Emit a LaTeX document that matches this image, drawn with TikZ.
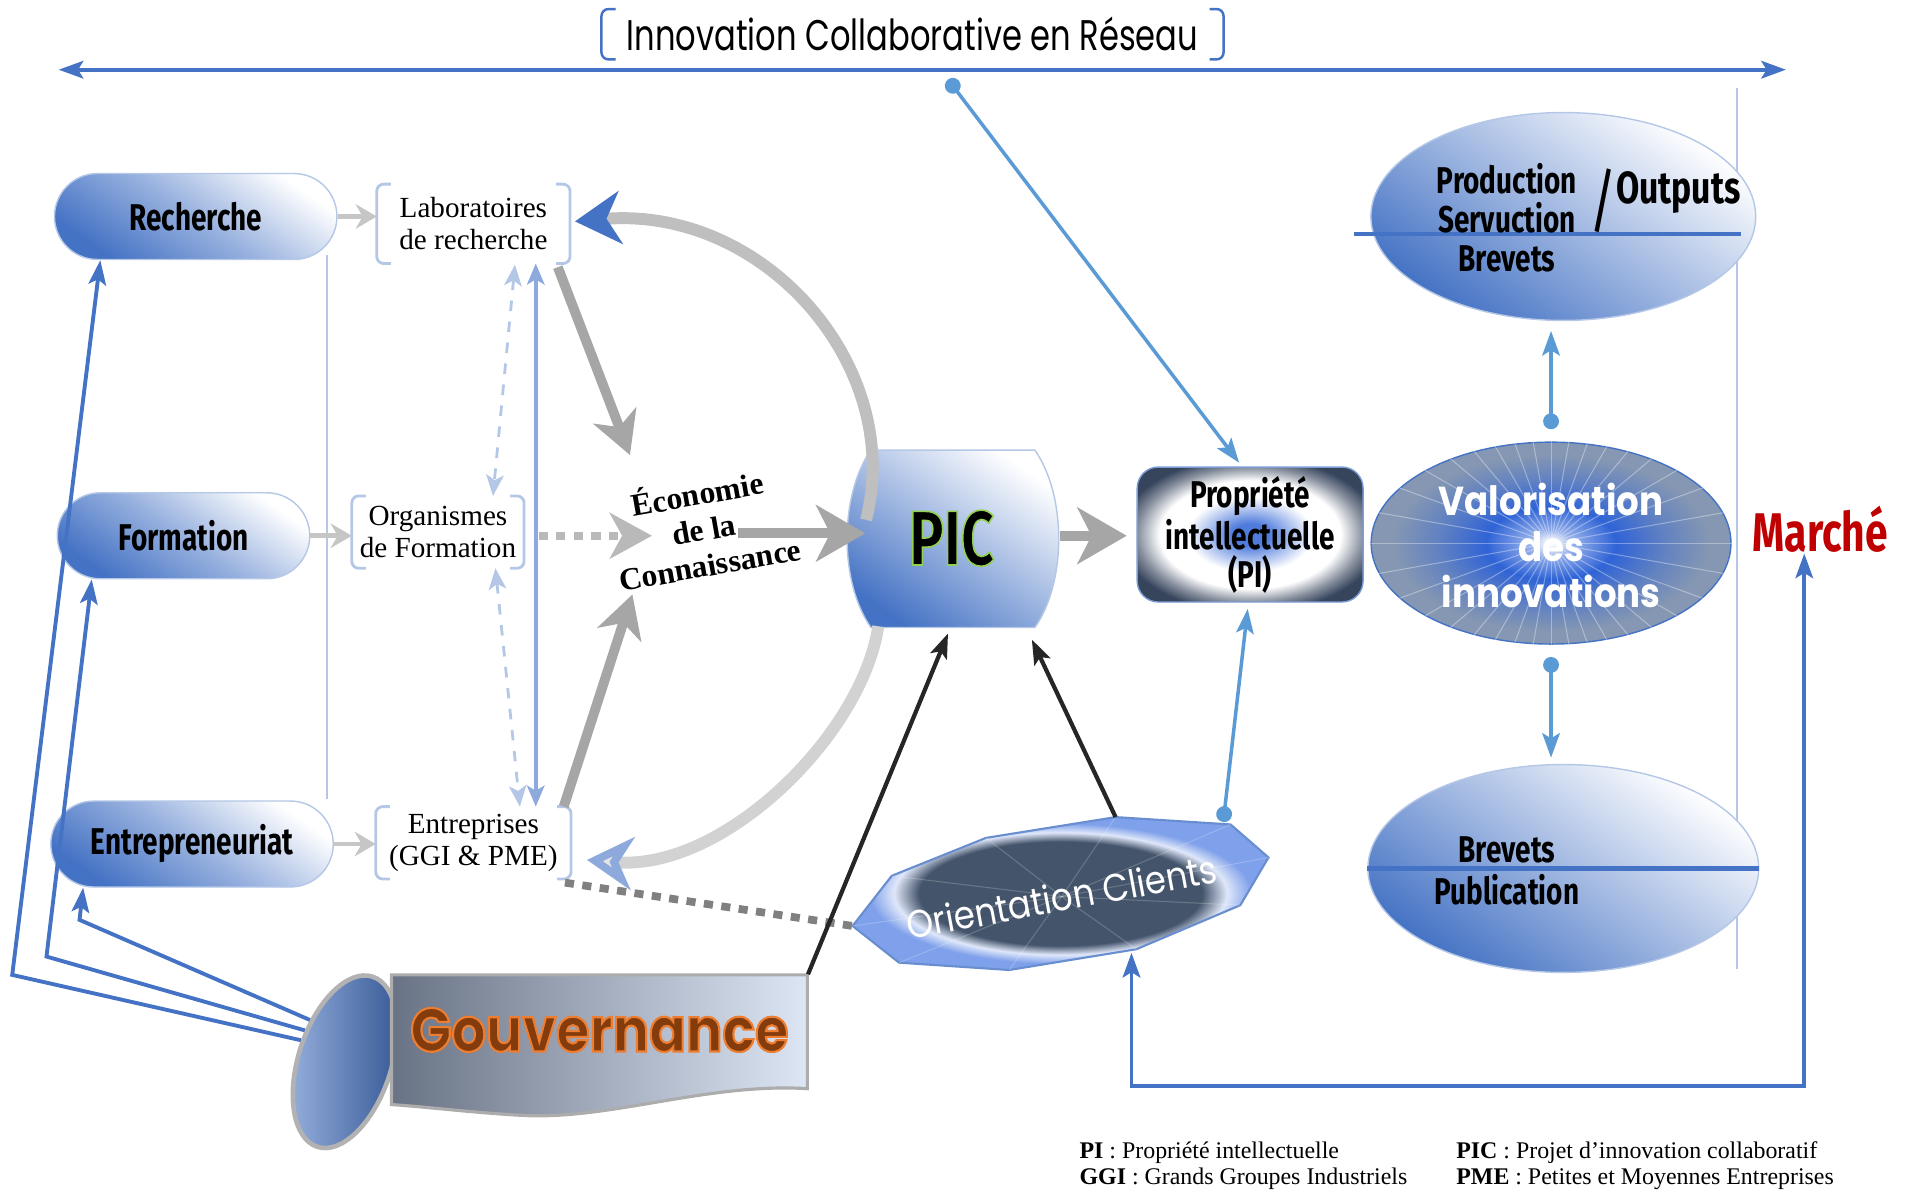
\documentclass[tikz,border=0pt]{standalone}
\usepackage{fontspec}
\setmainfont{Liberation Serif}
\newfontfamily\condfont{Fira Sans}[FakeStretch=0.75]
\newfontfamily\geofont{Poppins}[FakeStretch=0.88]
\newfontfamily\geotitle{Poppins}[FakeStretch=0.75]
\usetikzlibrary{positioning, shapes.geometric, shapes.misc, arrows.meta, calc}

\definecolor{mblue}{HTML}{4472C4}
\definecolor{lblue}{HTML}{5B9BD5}
\definecolor{pale}{HTML}{B4C7E7}
\definecolor{dblue}{HTML}{8EA9DB}
\definecolor{navy}{HTML}{36445C}
\definecolor{onavy}{HTML}{44546A}
\definecolor{oedge}{HTML}{7FA0EA}
\definecolor{vblue}{HTML}{2F63D6}
\definecolor{vgray}{HTML}{8597B2}
\definecolor{pilight}{HTML}{4F7BDC}
\definecolor{marche}{HTML}{C00000}
\definecolor{garr}{HTML}{A6A6A6}
\definecolor{brun}{HTML}{843C0C}

\pgfdeclareradialshading{pishade}{\pgfpointorigin}{color(0bp)=(pilight); color(4bp)=(pilight); color(10bp)=(pilight!40!white); color(14bp)=(white); color(20bp)=(white); color(25bp)=(white!40!navy); color(29bp)=(navy); color(50bp)=(navy)}
\pgfdeclareradialshading{valshade}{\pgfpointorigin}{color(0bp)=(white); color(3bp)=(white!50!vblue); color(9bp)=(vblue); color(16bp)=(vblue!40!vgray); color(22bp)=(vgray); color(50bp)=(vgray)}
\pgfdeclareradialshading{octshade}{\pgfpointorigin}{color(0bp)=(onavy); color(17bp)=(onavy); color(20bp)=(white!75!oedge); color(23bp)=(oedge); color(50bp)=(oedge)}

\tikzstyle{pill} = [rounded rectangle, draw=pale, top color=white, bottom color=mblue, middle color=mblue!55!white, shading angle=-35, minimum height=0.86cm, font=\condfont\bfseries\fontsize{10.6}{11}\selectfont]
\tikzstyle{bleuovale} = [ellipse, draw=pale, inner sep=0pt, top color=white, bottom color=mblue, middle color=mblue!50!white, shading angle=-35]
\tikzstyle{crochet} = [align=center, inner sep=0pt, font=\fontsize{8.3}{9.2}\selectfont]
\tikzstyle{cond} = [align=center, inner sep=0pt, font=\condfont\bfseries\fontsize{10.6}{10.8}\selectfont]
\tikzstyle{legende} = [anchor=west, inner sep=0pt, font=\fontsize{6.8}{7}\selectfont]
\tikzstyle{bigblue} = [mblue, line width=1.1pt, {Stealth[length=7pt,width=5pt,inset=1.5pt]}-{Stealth[length=7pt,width=5pt,inset=1.5pt]}]
\tikzstyle{loopline} = [mblue, line width=1.1pt, -{Stealth[length=7pt,width=5pt,inset=1.5pt]}]
\tikzstyle{dotarrow} = [lblue, line width=1pt, {Circle[length=4.5pt]}-{Stealth[length=7pt,width=5pt,inset=1.5pt]}]
\tikzstyle{sgray} = [draw=gray!45, line width=1.3pt, -{Stealth[length=6pt,width=7pt,inset=2pt]}]
\tikzstyle{ggray} = [draw=garr, line width=2.8pt, -{Stealth[length=12pt,width=13pt,inset=3.5pt]}]
\tikzstyle{gdots} = [draw=gray!55, line width=2.2pt, dash pattern=on 2.6pt off 2.4pt]
\tikzstyle{gcurve} = [draw=gray!50, line width=3.4pt]
\tikzstyle{darrow} = [black!85, line width=1.2pt, -{Stealth[length=7pt,width=5pt,inset=1.5pt]}]
\tikzstyle{paledash} = [pale, line width=0.8pt, dashed, {Stealth[length=6pt,width=5pt,inset=1.5pt]}-{Stealth[length=6pt,width=5pt,inset=1.5pt]}]
\tikzstyle{palesolid} = [dblue, line width=1pt, {Stealth[length=6pt,width=5pt,inset=1.5pt]}-{Stealth[length=6pt,width=5pt,inset=1.5pt]}]

% crochets autour d'un noeud
\newcommand{\crochets}[2]{%
  \draw[#2, rounded corners=2pt] ([xshift=4pt]#1.north west) -- (#1.north west) -- (#1.south west) -- ([xshift=4pt]#1.south west);
  \draw[#2, rounded corners=2pt] ([xshift=-4pt]#1.north east) -- (#1.north east) -- (#1.south east) -- ([xshift=-4pt]#1.south east);}
% texte avec contour (couleur du trait, epaisseur, texte)
\newcommand{\contourtxt}[3]{\special{pdf:literal direct #1 RG #2 w 2 Tr}#3\special{pdf:literal direct 0 Tr}}

\begin{document}
\begin{tikzpicture}[x=0.012232cm, y=-0.012232cm]
\useasboundingbox (0,0) rectangle (1568,976);

%titre et axe du reseau
\node (titre) [inner sep=0pt, minimum width=6.21cm, minimum height=0.49cm, font=\geotitle\fontsize{12.2}{13}\selectfont] at (746,28) {Innovation Collaborative en Réseau};
\crochets{titre}{draw=mblue, line width=0.7pt}
\coordinate (axeG) at (48,57);
\coordinate (axeD) at (1460,57);
\coordinate (axeP) at (775,65);
\draw [bigblue] (axeG) -- (axeD);
\draw [pale, line width=0.6pt] (1420,72) -- (1420,792);

%colonne de gauche
\node (rech) [pill, minimum width=3.06cm] at (160,177) {Recherche};
\node (form) [pill, minimum width=2.76cm] at (150,438) {Formation};
\node (entr) [pill, minimum width=3.06cm] at (157,690) {Entrepreneuriat};
\draw [pale, line width=0.5pt] ($(rech.east |- rech.south)+(-9,-4)$) -- ($(entr.east |- entr.north)+(-6,-1)$);

\node (labo) [crochet, minimum width=1.92cm, minimum height=0.78cm] at (387,183) {Laboratoires\\de recherche};
\node (orgf) [crochet, minimum width=1.71cm, minimum height=0.71cm] at (358,435) {Organismes\\de Formation};
\node (entp) [crochet, minimum width=1.94cm, minimum height=0.71cm] at (387,689) {Entreprises\\(GGI \& PME)};
\crochets{labo}{draw=pale, line width=0.8pt}
\crochets{orgf}{draw=pale, line width=0.8pt}
\crochets{entp}{draw=pale, line width=0.8pt}

\draw [sgray] (rech.east) -- (rech.east -| labo.west);
\draw [sgray] (form.east) -- (form.east -| orgf.west);
\draw [sgray] (entr.east) -- (entr.east -| entp.west);
\draw [paledash] ([shift={(34,1)}]labo.south) -- ([shift={(45,0)}]orgf.north);
\draw [paledash] ([shift={(47,0)}]orgf.south) -- ([shift={(38,0)}]entp.north);
\draw [palesolid] ([shift={(51,0)}]labo.south) -- ([shift={(51,0)}]entp.north);

%gouvernance
\node (govcap) [ellipse, rotate=-18, inner sep=0pt, minimum width=0.93cm, minimum height=1.79cm, draw=gray!60, line width=1.3pt, left color=mblue!55!white, right color=mblue!75!black] at (282,868) {};
\shade [left color=navy!75!white, right color=pale!45!white, draw=gray!65, line width=0.9pt] (320,797) -- (660,797) -- (660,890) .. controls (580,885) and (500,915) .. (430,912) .. controls (390,910) and (350,905) .. (320,903) -- cycle;
\node (gov) [inner sep=0pt, minimum width=4.16cm, minimum height=1.1cm, text=brun, font=\geofont\bfseries\fontsize{17.5}{18}\selectfont] at (490,842) {\contourtxt{0.93 0.49 0.19}{0.6}{Gouvernance}};
\draw [loopline] (govcap.148) -- (65,752) -- ([shift={(-89,0)}]entr.south);
\draw [loopline] (govcap.160) -- (38,782) -- ([shift={(-75,0)}]form.south);
\draw [loopline] (govcap.172) -- (10,797) -- ([shift={(-78,0)}]rech.south);

%economie de la connaissance
\node (eco) [rotate=10, align=center, inner sep=0pt, font=\bfseries\fontsize{9}{10.2}\selectfont] at (575,431) {Économie\\de la\\Connaissance};
\draw [ggray] ([shift={(-10,3)}]labo.south east) -- ([shift={(-60,-59)}]eco.center);
\draw [ggray] ([shift={(-6,0)}]entp.north east) -- ([shift={(-58,55)}]eco.center);
\draw [gdots, -{Stealth[length=12pt,width=13pt,inset=3.5pt]}] ([shift={(12,3)}]orgf.east) -- ([shift={(-42,7)}]eco.center);

%PIC
\shade [top color=white, bottom color=mblue, middle color=mblue!50!white, shading angle=-35, draw=pale] (712,368) -- (846,368) .. controls (872,405) and (872,476) .. (846,513) -- (712,513) .. controls (686,476) and (686,405) .. (712,368) -- cycle;
\node (pic) [inner sep=0pt, minimum width=2.08cm, minimum height=1.77cm, text=black, font=\condfont\bfseries\fontsize{22}{22}\selectfont] at (778,440) {\contourtxt{0.57 0.82 0.31}{0.45}{PIC}};
\draw [ggray, -{Stealth[length=14pt,width=16pt,inset=4pt]}] ([shift={(28,5)}]eco.center) -- ([shift={(15,-4)}]pic.west);
\draw [gcurve, -{Stealth[length=13pt,width=15pt,inset=4pt,color=mblue]}] ([shift={(-70,-15)}]pic.center) .. controls (740,300) and (625,168) .. ([shift={(4,-2)}]labo.east);
\draw [gcurve, draw=gray!35, -{Stealth[length=13pt,width=15pt,inset=4pt,color=dblue,fill=gray!20]}] ([shift={(-60,72)}]pic.center) .. controls (705,600) and (592,712) .. ([shift={(13,14)}]entp.east);

%propriete intellectuelle et valorisation
\node (pi) [cond, shade, shading=pishade, draw=mblue!70, rounded corners=6pt, minimum width=2.26cm, minimum height=1.35cm] at (1022,437) {Propriété\\intellectuelle\\(PI)};
\draw [ggray, -{Stealth[length=14pt,width=16pt,inset=4pt]}] ([shift={(3,-2)}]pic.east) -- ([shift={(-8,1)}]pi.west);

\node (valo) [ellipse, shade, shading=valshade, draw=mblue, inner sep=0pt, minimum width=3.6cm, minimum height=2.02cm] at (1268,444) {};
\foreach \a in {0,10,...,350}
  \draw [white, opacity=0.35, line width=0.3pt] (valo.center) -- (valo.\a);
\node (valotxt) [align=center, text=white, font=\geofont\bfseries\fontsize{11.5}{13.2}\selectfont] at (1268,446) {Valorisation\\des\\innovations};

\node (prod) [bleuovale, minimum width=3.85cm, minimum height=2.08cm] at (1278,177) {};
\draw [mblue, line width=1.2pt] ([shift={(-171,14)}]prod.center) -- ([shift={(145,14)}]prod.center);
\node (prodtxt) [cond, font=\condfont\bfseries\fontsize{10.6}{11.1}\selectfont] at (1232,162) {Production\\Servuction};
\node (slash) [inner sep=0pt, font=\condfont\fontsize{20}{20}\selectfont] at (1311,164) {/};
\node (outp) [cond, font=\condfont\bfseries\fontsize{12.8}{13}\selectfont] at (1372,157) {Outputs};
\node (prodbrev) [cond] at (1232,212) {Brevets};

\node (publ) [bleuovale, minimum width=3.91cm, minimum height=2.08cm] at (1278,710) {};
\draw [mblue, line width=1.2pt] (publ.west) -- (publ.east);
\node (publbrev) [cond] at (1232,695) {Brevets};
\node (publtxt) [cond] at (1232,727) {Publication};

\node (marche) [cond, text=marche, font=\condfont\bfseries\fontsize{15.5}{16}\selectfont] at (1488,433) {Marché};

%orientation clients
\path (697,757) coordinate (oc1) (735,787) coordinate (oc2) (825,793) coordinate (oc3) (929,776) coordinate (oc4) (1014,740) coordinate (oc5) (1037,701) coordinate (oc6) (1006,674) coordinate (oc7) (912,668) coordinate (oc8) (806,685) coordinate (oc9) (729,716) coordinate (oc10);
\coordinate (ocdot) at (1000,672);
\coordinate (ocbas) at (925,779);
\draw [gdots, draw=gray] ([shift={(-5,3)}]entp.south east) -- (oc1);
\shade [shading=octshade, draw=mblue!80, line width=0.6pt] (oc1) -- (oc2) -- (oc3) -- (oc4) -- (oc5) -- (oc6) -- (oc7) -- (oc8) -- (oc9) -- (oc10) -- cycle;
\foreach \i in {1,...,10}
  \draw [white, opacity=0.2, line width=0.3pt] (868,733) -- (oc\i);
\node (ocl) [rotate=10.5, text=white, font=\geofont\fontsize{11}{13}\selectfont] at (868,733) {Orientation Clients};

%liaisons
\draw [darrow] (gov.north east) -- ([shift={(-3,5)}]pic.south);
\draw [darrow] (oc8) -- ([shift={(-20,10)}]pic.south east);
\draw [dotarrow] (axeP) -- ([shift={(-9,-3)}]pi.north);
\draw [dotarrow] (ocdot) -- ([shift={(-2,5)}]pi.south);
\draw [dotarrow] ([shift={(0,-10)}]valo.north) -- ([shift={(-10,8)}]prod.south);
\draw [dotarrow] ([shift={(0,10)}]valo.south) -- ([shift={(-10,-5)}]publ.north);
\draw [bigblue] (ocbas) -- ++(0,109) -| ([shift={(-13,0)}]marche.south);

%legende
\node (legpi) [legende] at (882,942) {\textbf{PI} : Propriété intellectuelle};
\node (legggi) [legende] at (882,964) {\textbf{GGI} : Grands Groupes Industriels};
\node (legpic) [legende] at (1190,942) {\textbf{PIC} : Projet d’innovation collaboratif};
\node (legpme) [legende] at (1190,964) {\textbf{PME} : Petites et Moyennes Entreprises};
\end{tikzpicture}
\end{document}
